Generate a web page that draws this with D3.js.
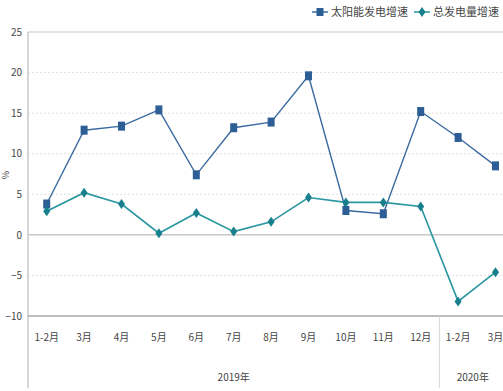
<!DOCTYPE html>
<html><head><meta charset="utf-8">
<script src="https://cdn.jsdelivr.net/npm/d3@7"></script>
<style>body{margin:0;background:#fff}svg{display:block}text{font-family:"Noto Sans CJK SC","DejaVu Sans",sans-serif;fill:#444}</style>
</head><body><svg id="c" width="503" height="391"></svg>
<script>
const categories = ["1-2月","3月","4月","5月","6月","7月","8月","9月","10月","11月","12月","1-2月","3月"];
const solar = [3.8,12.9,13.4,15.4,7.4,13.2,13.9,19.6,3.0,2.6,15.2,12.0,8.5];
const total = [2.9,5.2,3.8,0.2,2.7,0.4,1.6,4.6,4.0,4.0,3.5,-8.2,-4.6];
const yTicks = [25,20,15,10,5,0,-5,-10];
const years = [{label:"2019年", from:0, to:10},{label:"2020年", from:11, to:12}];
const seriesNames = ["太阳能发电增速","总发电量增速"];

(function(){
const svg = d3.select("#c");
const left = 28, topY = 32, bottom = 316;
const x = d3.scaleBand().domain(d3.range(categories.length)).range([left, left + 37.4*13]);
const y = d3.scaleLinear().domain([-10,25]).range([bottom, topY]);
const W = 503;

yTicks.forEach(t => {
  if (t === -10) return;
  svg.append("line").attr("x1", left).attr("x2", W).attr("y1", y(t)).attr("y2", y(t))
    .attr("stroke", t===0||t===25 ? "#c8c8c8" : "#e2e2e2")
    .attr("stroke-width", t===0 ? 1.5 : 1)
    .attr("stroke-dasharray", (t===0||t===25) ? null : "2,2");
});
const yAxis = d3.axisLeft(y).tickValues(yTicks).tickSize(0).tickPadding(6);
const ga = svg.append("g").attr("transform", `translate(${left},0)`).call(yAxis);
ga.select(".domain").remove();
ga.selectAll("text").attr("font-size", 10).style("fill","#444");
svg.append("text").attr("transform","translate(9,175) rotate(-90)").attr("text-anchor","middle").attr("font-size",9).text("%");

svg.append("line").attr("x1",left).attr("x2",left).attr("y1",topY).attr("y2",388).attr("stroke","#c8c8c8").attr("stroke-width",1.5);
svg.append("line").attr("x1",left).attr("x2",W).attr("y1",bottom).attr("y2",bottom).attr("stroke","#bdbdbd").attr("stroke-width",2);
const xAxis = d3.axisBottom(x).tickFormat(i => categories[i]).tickSize(0).tickPadding(18);
const gx = svg.append("g").attr("transform",`translate(0,${bottom})`).call(xAxis);
gx.select(".domain").remove();
gx.selectAll("text").attr("font-size",10).style("fill","#444");
years.forEach((yr,k) => {
  if (k>0) svg.append("line").attr("x1",x(yr.from)).attr("x2",x(yr.from)).attr("y1",bottom).attr("y2",388).attr("stroke","#d8d8d8").attr("stroke-width",1);
});
svg.append("text").attr("x", x(5)+x.bandwidth()/2).attr("y",381).attr("text-anchor","middle").attr("font-size",10).text(years[0].label);
svg.append("text").attr("x", x(12)-4).attr("y",381).attr("text-anchor","middle").attr("font-size",10).text(years[1].label);

const cx = i => x(i) + x.bandwidth()/2;
const line = d3.line().x((d,i)=>cx(i)).y(d=>y(d));
const c1 = "#3a6aa0", m1 = "#2d5f96", c2 = "#2a96a0", m2 = "#17808c";
svg.append("path").datum(solar).attr("d",line).attr("fill","none").attr("stroke",c1).attr("stroke-width",1.4);
svg.append("path").datum(total).attr("d",line).attr("fill","none").attr("stroke",c2).attr("stroke-width",1.6);
svg.selectAll(".sq").data(solar).enter().append("rect")
  .attr("x",(d,i)=>cx(i)-3.5).attr("y",d=>y(d)-4.5).attr("width",7).attr("height",9).attr("fill",m1);
svg.selectAll(".dm").data(total).enter().append("path")
  .attr("d",(d,i)=>{const X=cx(i),Y=y(d);return `M${X},${Y-5}L${X+3.5},${Y}L${X},${Y+5}L${X-3.5},${Y}Z`;})
  .attr("fill",m2);

const lg = svg.append("g");
lg.append("line").attr("x1",312).attr("x2",328).attr("y1",12).attr("y2",12).attr("stroke",c1).attr("stroke-width",1.5);
lg.append("rect").attr("x",316.5).attr("y",8).attr("width",7).attr("height",8).attr("fill",m1);
lg.append("text").attr("x",331).attr("y",16).attr("font-size",11).text(seriesNames[0]);
lg.append("line").attr("x1",414).attr("x2",430).attr("y1",12).attr("y2",12).attr("stroke",c2).attr("stroke-width",1.5);
lg.append("path").attr("d","M422,7L425.5,12L422,17L418.5,12Z").attr("fill",m2);
lg.append("text").attr("x",433).attr("y",16).attr("font-size",11).text(seriesNames[1]);
})();
</script></body></html>
